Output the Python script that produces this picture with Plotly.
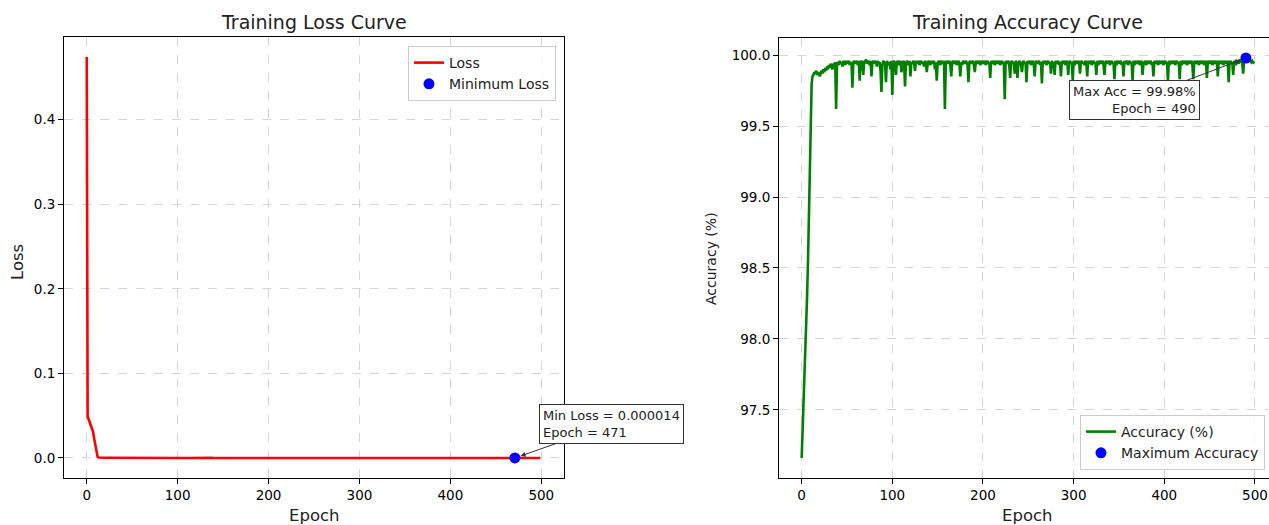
import plotly.graph_objects as go

# ---- training history (epoch index 0..499) ----
loss = [
    0.474, 0.049, 0.046, 0.043, 0.040, 0.037, 0.035, 0.031, 0.024, 0.017, 0.010, 0.0042, 0.0012, 6.1e-4, 4.8e-4, 4.1e-4, 3.6e-4, 3.2e-4, 2.9e-4, 2.7e-4,
    2.5e-4, 2.3e-4, 2.2e-4, 2.1e-4, 2.0e-4, 1.9e-4, 1.8e-4, 1.7e-4, 1.7e-4, 1.6e-4, 1.5e-4, 1.5e-4, 1.4e-4, 1.4e-4, 1.3e-4, 1.3e-4, 1.2e-4, 1.2e-4, 1.6e-4, 1.2e-4,
    1.1e-4, 1.1e-4, 1.0e-4, 1.0e-4, 9.9e-5, 9.7e-5, 9.5e-5, 9.3e-5, 9.1e-5, 8.9e-5, 8.8e-5, 8.6e-5, 8.5e-5, 8.3e-5, 8.2e-5, 8.1e-5, 1.2e-4, 8.0e-5, 7.8e-5, 7.7e-5,
    7.6e-5, 7.5e-5, 7.4e-5, 7.3e-5, 9.1e-5, 7.2e-5, 7.1e-5, 7.0e-5, 8.2e-5, 6.9e-5, 6.8e-5, 6.7e-5, 6.6e-5, 6.6e-5, 6.5e-5, 6.4e-5, 6.4e-5, 7.9e-5, 6.3e-5, 6.2e-5,
    6.2e-5, 6.1e-5, 6.0e-5, 6.0e-5, 5.9e-5, 5.9e-5, 5.8e-5, 6.6e-5, 1.0e-4, 5.9e-5, 5.7e-5, 5.6e-5, 5.6e-5, 7.8e-5, 5.5e-5, 5.5e-5, 5.4e-5, 5.4e-5, 6.0e-5, 5.3e-5,
    1.1e-4, 5.4e-5, 5.2e-5, 5.2e-5, 6.5e-5, 5.1e-5, 5.1e-5, 5.0e-5, 5.0e-5, 4.9e-5, 6.1e-5, 4.9e-5, 4.8e-5, 4.8e-5, 8.2e-5, 4.8e-5, 4.7e-5, 4.7e-5, 4.6e-5, 4.6e-5,
    6.4e-5, 4.6e-5, 4.5e-5, 4.5e-5, 4.5e-5, 5.6e-5, 4.4e-5, 4.4e-5, 4.4e-5, 4.3e-5, 4.3e-5, 4.3e-5, 4.2e-5, 4.2e-5, 4.2e-5, 4.6e-5, 4.1e-5, 4.1e-5, 5.3e-5, 4.1e-5,
    4.0e-5, 4.0e-5, 4.1e-5, 3.9e-5, 4.0e-5, 3.9e-5, 3.9e-5, 4.5e-5, 3.9e-5, 6.8e-5, 3.9e-5, 3.8e-5, 3.8e-5, 3.9e-5, 3.7e-5, 3.7e-5, 3.8e-5, 3.7e-5, 1.2e-4, 3.9e-5,
    3.7e-5, 3.7e-5, 3.6e-5, 3.6e-5, 3.7e-5, 5.9e-5, 3.6e-5, 3.5e-5, 3.6e-5, 3.5e-5, 3.5e-5, 3.6e-5, 3.5e-5, 3.4e-5, 3.5e-5, 5.7e-5, 3.4e-5, 3.5e-5, 3.4e-5, 3.4e-5,
    3.4e-5, 3.3e-5, 3.3e-5, 3.4e-5, 6.9e-5, 3.4e-5, 3.3e-5, 3.3e-5, 3.2e-5, 3.2e-5, 3.3e-5, 4.6e-5, 3.2e-5, 3.2e-5, 3.2e-5, 3.1e-5, 3.1e-5, 3.2e-5, 3.1e-5, 3.1e-5,
    3.1e-5, 3.1e-5, 3.0e-5, 3.1e-5, 3.0e-5, 3.0e-5, 3.0e-5, 3.0e-5, 5.2e-5, 3.0e-5, 2.9e-5, 2.9e-5, 2.9e-5, 3.0e-5, 2.9e-5, 2.9e-5, 2.9e-5, 2.8e-5, 2.8e-5, 2.9e-5,
    2.8e-5, 2.8e-5, 2.8e-5, 2.8e-5, 9.3e-5, 3.0e-5, 2.8e-5, 2.8e-5, 2.7e-5, 2.8e-5, 5.1e-5, 2.8e-5, 2.7e-5, 2.7e-5, 2.7e-5, 4.4e-5, 2.7e-5, 2.7e-5, 5.0e-5, 2.7e-5,
    2.6e-5, 2.6e-5, 2.7e-5, 4.0e-5, 2.6e-5, 2.6e-5, 2.6e-5, 2.6e-5, 5.8e-5, 2.6e-5, 2.6e-5, 2.5e-5, 2.5e-5, 2.6e-5, 2.5e-5, 2.5e-5, 2.5e-5, 4.7e-5, 2.5e-5, 2.5e-5,
    2.5e-5, 2.5e-5, 2.4e-5, 2.5e-5, 2.4e-5, 6.0e-5, 2.5e-5, 2.4e-5, 2.4e-5, 2.4e-5, 2.4e-5, 2.4e-5, 2.4e-5, 2.4e-5, 2.3e-5, 4.2e-5, 2.3e-5, 2.4e-5, 2.3e-5, 4.4e-5,
    2.3e-5, 2.3e-5, 2.3e-5, 2.3e-5, 2.3e-5, 2.3e-5, 4.6e-5, 2.3e-5, 2.2e-5, 2.2e-5, 2.2e-5, 2.3e-5, 2.2e-5, 2.2e-5, 4.4e-5, 2.2e-5, 2.2e-5, 2.2e-5, 2.2e-5, 5.4e-5,
    2.2e-5, 2.2e-5, 2.1e-5, 2.1e-5, 2.1e-5, 2.1e-5, 2.1e-5, 4.1e-5, 2.1e-5, 2.1e-5, 2.1e-5, 2.1e-5, 2.1e-5, 2.0e-5, 2.1e-5, 4.5e-5, 2.0e-5, 2.1e-5, 2.0e-5, 2.0e-5,
    2.0e-5, 2.0e-5, 2.0e-5, 2.0e-5, 2.0e-5, 4.3e-5, 2.0e-5, 2.0e-5, 2.0e-5, 1.9e-5, 2.0e-5, 1.9e-5, 1.9e-5, 2.0e-5, 4.3e-5, 1.9e-5, 1.9e-5, 1.9e-5, 1.9e-5, 1.9e-5,
    1.9e-5, 1.9e-5, 1.9e-5, 1.9e-5, 1.9e-5, 5.0e-5, 1.9e-5, 1.9e-5, 1.8e-5, 1.8e-5, 1.8e-5, 1.8e-5, 1.8e-5, 1.9e-5, 1.8e-5, 4.6e-5, 1.8e-5, 1.8e-5, 1.8e-5, 1.8e-5,
    1.8e-5, 1.8e-5, 1.8e-5, 1.8e-5, 1.8e-5, 5.2e-5, 1.8e-5, 1.8e-5, 1.7e-5, 1.7e-5, 1.7e-5, 1.7e-5, 1.7e-5, 1.8e-5, 1.7e-5, 1.7e-5, 4.3e-5, 1.7e-5, 1.7e-5, 1.7e-5,
    1.7e-5, 1.7e-5, 1.7e-5, 1.7e-5, 1.7e-5, 1.7e-5, 1.7e-5, 1.7e-5, 4.5e-5, 1.7e-5, 1.7e-5, 1.6e-5, 1.6e-5, 1.7e-5, 1.6e-5, 1.6e-5, 1.6e-5, 1.6e-5, 1.6e-5, 1.7e-5,
    1.6e-5, 1.6e-5, 1.6e-5, 1.6e-5, 5.3e-5, 1.7e-5, 1.6e-5, 1.6e-5, 1.6e-5, 1.6e-5, 1.6e-5, 1.6e-5, 1.6e-5, 1.6e-5, 1.6e-5, 1.6e-5, 1.6e-5, 5.0e-5, 1.6e-5, 1.6e-5,
    1.6e-5, 1.5e-5, 1.6e-5, 1.5e-5, 1.5e-5, 1.6e-5, 1.5e-5, 1.5e-5, 1.5e-5, 1.5e-5, 1.5e-5, 1.6e-5, 4.9e-5, 1.6e-5, 1.5e-5, 1.5e-5, 1.5e-5, 1.5e-5, 1.5e-5, 1.5e-5,
    1.5e-5, 1.5e-5, 1.5e-5, 1.5e-5, 1.5e-5, 1.5e-5, 1.5e-5, 4.8e-5, 1.6e-5, 1.5e-5, 1.5e-5, 1.5e-5, 1.5e-5, 1.5e-5, 1.5e-5, 1.5e-5, 1.5e-5, 1.5e-5, 1.5e-5, 4.4e-5,
    1.5e-5, 1.5e-5, 1.5e-5, 1.5e-5, 1.5e-5, 1.5e-5, 1.5e-5, 1.5e-5, 1.5e-5, 1.5e-5, 1.5e-5, 1.4e-5, 5.6e-5, 1.6e-5, 1.5e-5, 1.5e-5, 4.2e-5, 1.5e-5, 1.5e-5, 1.5e-5,
    1.5e-5, 1.5e-5, 1.5e-5, 1.5e-5, 1.5e-5, 1.5e-5, 1.5e-5, 3.9e-5, 1.5e-5, 1.5e-5, 1.5e-5, 1.5e-5, 1.5e-5, 1.5e-5, 1.5e-5, 1.5e-5, 1.5e-5, 1.5e-5, 1.5e-5, 1.5e-5,
]

accuracy = [
    97.16, 97.33, 97.60, 97.72, 97.88, 98.05, 98.30, 98.55, 98.85, 99.20, 99.55, 99.80, 99.85, 99.86, 99.88, 99.87, 99.89, 99.86, 99.88, 99.87,
    99.85, 99.88, 99.89, 99.87, 99.90, 99.88, 99.91, 99.89, 99.92, 99.90, 99.93, 99.91, 99.94, 99.92, 99.90, 99.94, 99.93, 99.95, 99.62, 99.94,
    99.95, 99.93, 99.96, 99.94, 99.95, 99.92, 99.96, 99.95, 99.93, 99.96, 99.94, 99.95, 99.96, 99.93, 99.95, 99.94, 99.77, 99.95, 99.96, 99.94,
    99.96, 99.95, 99.93, 99.96, 99.82, 99.95, 99.96, 99.94, 99.86, 99.96, 99.95, 99.97, 99.94, 99.96, 99.95, 99.93, 99.96, 99.85, 99.95, 99.96,
    99.94, 99.96, 99.95, 99.92, 99.96, 99.94, 99.95, 99.89, 99.74, 99.93, 99.96, 99.95, 99.94, 99.81, 99.96, 99.93, 99.95, 99.94, 99.90, 99.96,
    99.72, 99.95, 99.96, 99.94, 99.86, 99.95, 99.96, 99.93, 99.95, 99.96, 99.88, 99.94, 99.96, 99.95, 99.78, 99.94, 99.96, 99.95, 99.93, 99.96,
    99.85, 99.95, 99.94, 99.96, 99.95, 99.89, 99.96, 99.94, 99.95, 99.96, 99.93, 99.95, 99.96, 99.94, 99.95, 99.92, 99.96, 99.95, 99.88, 99.94,
    99.96, 99.95, 99.93, 99.96, 99.94, 99.95, 99.96, 99.90, 99.95, 99.82, 99.94, 99.96, 99.95, 99.93, 99.96, 99.95, 99.94, 99.96, 99.62, 99.95,
    99.96, 99.94, 99.95, 99.96, 99.93, 99.85, 99.95, 99.96, 99.94, 99.95, 99.96, 99.93, 99.95, 99.96, 99.94, 99.85, 99.95, 99.93, 99.96, 99.95,
    99.94, 99.96, 99.95, 99.93, 99.81, 99.95, 99.96, 99.94, 99.95, 99.96, 99.93, 99.88, 99.95, 99.96, 99.94, 99.95, 99.96, 99.93, 99.95, 99.96,
    99.94, 99.95, 99.96, 99.93, 99.95, 99.96, 99.94, 99.95, 99.84, 99.96, 99.94, 99.95, 99.96, 99.93, 99.95, 99.96, 99.94, 99.95, 99.96, 99.93,
    99.95, 99.96, 99.94, 99.95, 99.69, 99.96, 99.94, 99.95, 99.96, 99.93, 99.84, 99.95, 99.96, 99.94, 99.95, 99.87, 99.96, 99.95, 99.84, 99.94,
    99.96, 99.95, 99.93, 99.88, 99.95, 99.96, 99.94, 99.95, 99.81, 99.96, 99.94, 99.95, 99.96, 99.93, 99.95, 99.96, 99.94, 99.85, 99.95, 99.96,
    99.94, 99.95, 99.96, 99.93, 99.95, 99.80, 99.96, 99.94, 99.95, 99.96, 99.93, 99.95, 99.96, 99.94, 99.95, 99.87, 99.96, 99.93, 99.95, 99.86,
    99.96, 99.94, 99.95, 99.96, 99.93, 99.95, 99.85, 99.96, 99.94, 99.95, 99.96, 99.93, 99.95, 99.96, 99.86, 99.95, 99.96, 99.94, 99.95, 99.82,
    99.96, 99.93, 99.95, 99.96, 99.94, 99.95, 99.96, 99.87, 99.95, 99.96, 99.94, 99.95, 99.93, 99.96, 99.95, 99.85, 99.96, 99.94, 99.95, 99.96,
    99.93, 99.95, 99.96, 99.94, 99.95, 99.86, 99.96, 99.93, 99.95, 99.96, 99.94, 99.95, 99.96, 99.93, 99.86, 99.95, 99.96, 99.94, 99.95, 99.96,
    99.93, 99.95, 99.96, 99.94, 99.95, 99.83, 99.96, 99.93, 99.95, 99.96, 99.94, 99.95, 99.96, 99.93, 99.95, 99.85, 99.96, 99.94, 99.95, 99.96,
    99.93, 99.95, 99.96, 99.94, 99.95, 99.82, 99.96, 99.93, 99.95, 99.96, 99.94, 99.95, 99.96, 99.93, 99.95, 99.96, 99.86, 99.94, 99.95, 99.96,
    99.93, 99.95, 99.96, 99.94, 99.95, 99.96, 99.93, 99.95, 99.85, 99.96, 99.94, 99.95, 99.96, 99.93, 99.95, 99.96, 99.94, 99.95, 99.96, 99.93,
    99.95, 99.96, 99.94, 99.95, 99.82, 99.96, 99.93, 99.95, 99.96, 99.94, 99.95, 99.96, 99.93, 99.95, 99.96, 99.94, 99.95, 99.83, 99.96, 99.93,
    99.95, 99.96, 99.94, 99.95, 99.96, 99.93, 99.95, 99.96, 99.94, 99.95, 99.96, 99.93, 99.83, 99.95, 99.96, 99.94, 99.95, 99.96, 99.93, 99.95,
    99.96, 99.94, 99.95, 99.96, 99.93, 99.95, 99.96, 99.84, 99.95, 99.96, 99.94, 99.95, 99.96, 99.93, 99.95, 99.96, 99.94, 99.95, 99.96, 99.85,
    99.95, 99.96, 99.94, 99.95, 99.96, 99.93, 99.95, 99.96, 99.94, 99.95, 99.96, 99.81, 99.95, 99.96, 99.94, 99.95, 99.86, 99.96, 99.95, 99.93,
    99.95, 99.96, 99.94, 99.97, 99.95, 99.96, 99.94, 99.87, 99.96, 99.97, 99.98, 99.97, 99.95, 99.96, 99.97, 99.96, 99.95, 99.96, 99.95, 99.94,
]

epochs = list(range(len(loss)))
x_ticks = [0, 100, 200, 300, 400, 500]
loss_ticks = [0.0, 0.1, 0.2, 0.3, 0.4]
acc_ticks = [97.5, 98.0, 98.5, 99.0, 99.5, 100.0]

best_loss_epoch = min(epochs, key=lambda i: loss[i])
best_acc_epoch = max(epochs, key=lambda i: accuracy[i])

W, H = 1269, 525
FONT = "DejaVu Sans"
TEXT = "#222222"


def px_x(p):
    return p / W


def px_y(p):
    return 1 - p / H


def pad_range(vals, frac=0.05):
    lo, hi = min(vals), max(vals)
    span = hi - lo
    return [lo - frac * span, hi + frac * span]


fig = go.Figure()

fig.add_trace(go.Scatter(
    x=epochs, y=loss, mode="lines", name="Loss",
    line=dict(color="#ff0000", width=2.6),
    xaxis="x", yaxis="y", legend="legend",
))
fig.add_trace(go.Scatter(
    x=[best_loss_epoch], y=[loss[best_loss_epoch]], mode="markers", name="Minimum Loss",
    marker=dict(color="#0000ff", size=11),
    xaxis="x", yaxis="y", legend="legend",
))
fig.add_trace(go.Scatter(
    x=epochs, y=accuracy, mode="lines", name="Accuracy (%)",
    line=dict(color="#008000", width=2.6),
    xaxis="x2", yaxis="y2", legend="legend2",
))
fig.add_trace(go.Scatter(
    x=[best_acc_epoch], y=[accuracy[best_acc_epoch]], mode="markers", name="Maximum Accuracy",
    marker=dict(color="#0000ff", size=11),
    xaxis="x2", yaxis="y2", legend="legend2",
))

axis_common = dict(
    showline=True, linecolor="black", linewidth=1,
    ticks="outside", ticklen=5, tickwidth=1, tickcolor="black",
    showgrid=True, gridcolor="#d6d6d6", gridwidth=0.8, griddash="dash",
    zeroline=False,
    tickfont=dict(family=FONT, size=13.5, color="black"),
)

top_px, bottom_px = 37, 478

fig.update_layout(
    width=W, height=H,
    margin=dict(l=0, r=0, t=0, b=0),
    paper_bgcolor="white", plot_bgcolor="white",
    font=dict(family=FONT, color="black"),
    xaxis=dict(axis_common, domain=[px_x(64), px_x(564)], range=[-25, 525],
               tickvals=x_ticks, mirror=True, anchor="y"),
    yaxis=dict(axis_common, domain=[px_y(bottom_px), px_y(top_px)],
               range=pad_range(loss), tickvals=loss_ticks, tickformat=".1f",
               mirror=True, anchor="x"),
    xaxis2=dict(axis_common, domain=[px_x(779), 1.0], range=[-25, 515.5],
                tickvals=x_ticks, mirror=True, anchor="y2"),
    yaxis2=dict(axis_common, domain=[px_y(bottom_px), px_y(top_px + 1)],
                range=pad_range(accuracy), tickvals=acc_ticks, tickformat=".1f",
                mirror=False, anchor="x2"),
    legend=dict(
        x=px_x(556), y=px_y(46), xanchor="right", yanchor="top",
        bgcolor="rgba(255,255,255,0.85)", bordercolor="#cccccc", borderwidth=1,
        font=dict(family=FONT, size=14, color=TEXT),
    ),
    legend2=dict(
        x=px_x(1265), y=px_y(470), xanchor="right", yanchor="bottom",
        bgcolor="rgba(255,255,255,0.85)", bordercolor="#cccccc", borderwidth=1,
        font=dict(family=FONT, size=14, color=TEXT),
    ),
    showlegend=True,
)


def paper_text(text, x, y, size, angle=0):
    return dict(text=text, x=px_x(x), y=px_y(y), xref="paper", yref="paper",
                xanchor="center", yanchor="middle", textangle=angle,
                showarrow=False, font=dict(family=FONT, size=size, color=TEXT))


annotations = [
    # panel titles
    paper_text("Training Loss Curve", 314, 22, 19),
    paper_text("Training Accuracy Curve", 1027, 22, 19),
    # axis titles
    paper_text("Epoch", 314, 515, 16.5),
    paper_text("Epoch", 1027, 515, 16.5),
    paper_text("Loss", 17, 262, 16.5, -90),
    paper_text("Accuracy (%)", 711, 259, 14, -90),
    # best-value callouts
    dict(text=f"Min Loss = {loss[best_loss_epoch]:.6f}<br>Epoch = {best_loss_epoch}",
         x=best_loss_epoch, y=loss[best_loss_epoch], xref="x", yref="y",
         ax=97, ay=-34, axref="pixel", ayref="pixel", align="left",
         showarrow=True, arrowhead=2, arrowsize=1, arrowwidth=1, arrowcolor="#333333",
         standoff=6, bgcolor="white", bordercolor="#333333", borderwidth=1, borderpad=3,
         font=dict(family=FONT, size=13, color=TEXT)),
    dict(text=f"Max Acc = {accuracy[best_acc_epoch]:.2f}%<br>Epoch = {best_acc_epoch}",
         x=best_acc_epoch, y=accuracy[best_acc_epoch], xref="x2", yref="y2",
         ax=-111, ay=42, axref="pixel", ayref="pixel", align="right",
         showarrow=True, arrowhead=2, arrowsize=1, arrowwidth=1, arrowcolor="#333333",
         standoff=6, bgcolor="white", bordercolor="#333333", borderwidth=1, borderpad=3,
         font=dict(family=FONT, size=13, color=TEXT)),
]
fig.update_layout(annotations=annotations)

fig.write_html("out.html")
